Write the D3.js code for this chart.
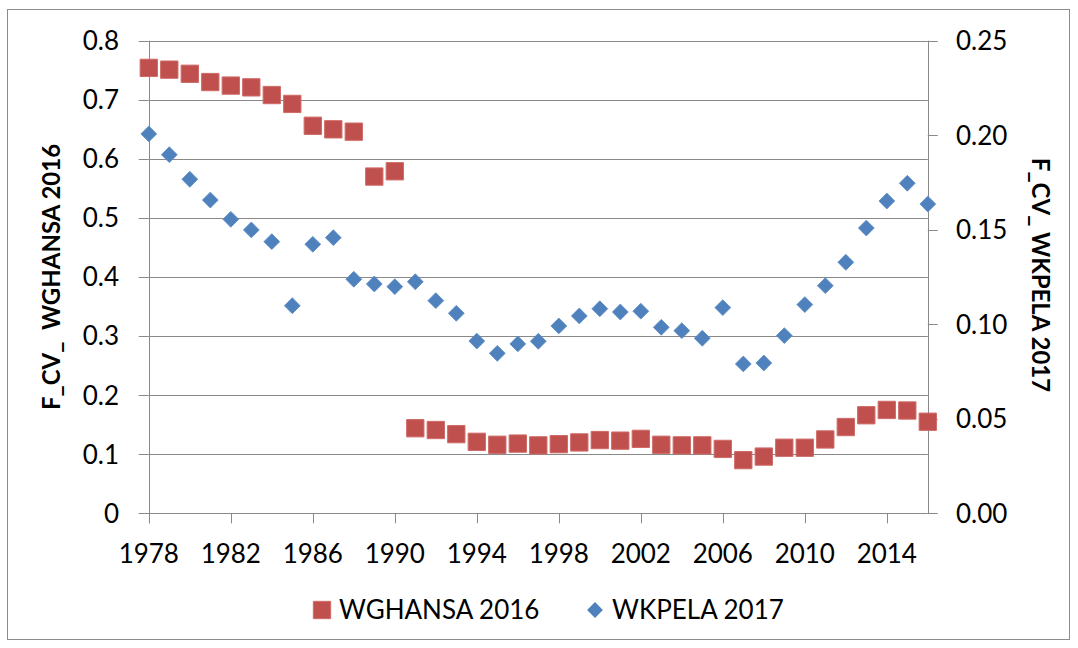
<!DOCTYPE html>
<html>
<head>
<meta charset="utf-8">
<script src="https://cdn.jsdelivr.net/npm/d3@7"></script>
<style>
  body { margin: 0; background: #fff; }
  svg { display: block; font-family: Lato, "Open Sans", sans-serif; }
</style>
</head>
<body>
<svg width="1078" height="648"></svg>
<script>
// data
var years = d3.range(1978, 2017);
var wghansa = [0.754, 0.751, 0.744, 0.730, 0.724, 0.721, 0.708, 0.693, 0.656, 0.650,
  0.646, 0.570, 0.579, 0.144, 0.141, 0.134, 0.121, 0.116, 0.118, 0.115,
  0.117, 0.120, 0.124, 0.123, 0.126, 0.116, 0.115, 0.115, 0.109, 0.090,
  0.096, 0.111, 0.111, 0.125, 0.146, 0.166, 0.175, 0.174, 0.155];
var wkpela = [0.2007, 0.1897, 0.1767, 0.1657, 0.1555, 0.1499, 0.1437, 0.1098, 0.1423, 0.1458,
  0.1238, 0.1213, 0.1199, 0.1225, 0.1125, 0.1058, 0.0911, 0.0846, 0.0896, 0.0910,
  0.0991, 0.1044, 0.1082, 0.1065, 0.1069, 0.0984, 0.0966, 0.0926, 0.1088, 0.0790,
  0.0795, 0.0940, 0.1104, 0.1204, 0.1328, 0.1509, 0.1652, 0.1746, 0.1636];
var xTicks = d3.range(1978, 2016, 4);
var leftTicks = [0, 0.1, 0.2, 0.3, 0.4, 0.5, 0.6, 0.7, 0.8];
var rightTicks = [0, 0.05, 0.10, 0.15, 0.20, 0.25];

var svg = d3.select("svg");
var pLeft = 148.8, pRight = 927.8, pTop = 40.7, pBottom = 513.3;
var gridCol = "#898989";
var red = "#C0504D", blue = "#4F81BD";

var x = d3.scaleLinear().domain([1978, 2016]).range([pLeft, pRight]);
var yL = d3.scaleLinear().domain([0, 0.8]).range([pBottom, pTop]);
var yR = d3.scaleLinear().domain([0, 0.25]).range([pBottom, pTop]);

function px(v) { return Math.round(v) + 0.5; }

// chart border
svg.append("rect")
  .attr("x", 7.5).attr("y", 9.5)
  .attr("width", 1062).attr("height", 630)
  .attr("fill", "#fff").attr("stroke", "#8c8c8c").attr("stroke-width", 1);

// gridlines
svg.append("g").selectAll("line")
  .data(leftTicks.filter(function (d) { return d > 0; }))
  .enter().append("line")
  .attr("x1", pLeft).attr("x2", pRight)
  .attr("y1", function (d) { return px(yL(d)); })
  .attr("y2", function (d) { return px(yL(d)); })
  .attr("stroke", gridCol);

// axes
var ax = svg.append("g");
ax.append("line").attr("x1", pLeft - 10).attr("x2", pRight)
  .attr("y1", px(pBottom)).attr("y2", px(pBottom)).attr("stroke", gridCol);
ax.append("line").attr("x1", px(pLeft)).attr("x2", px(pLeft))
  .attr("y1", pTop).attr("y2", pBottom + 10).attr("stroke", gridCol);
ax.append("line").attr("x1", px(pRight)).attr("x2", px(pRight))
  .attr("y1", pTop).attr("y2", pBottom).attr("stroke", gridCol);

// left ticks + labels
ax.selectAll(".lt").data(leftTicks).enter().append("line")
  .attr("x1", pLeft - 10).attr("x2", pLeft)
  .attr("y1", function (d) { return px(yL(d)); })
  .attr("y2", function (d) { return px(yL(d)); })
  .attr("stroke", gridCol);
ax.selectAll(".ll").data(leftTicks).enter().append("text")
  .attr("x", 119).attr("y", function (d) { return yL(d); })
  .attr("dy", "0.36em").attr("text-anchor", "end")
  .attr("font-size", 26).attr("fill", "#000")
  .text(function (d) { return d === 0 ? "0" : d3.format(".1f")(d); });

// right ticks + labels
ax.selectAll(".rt").data(rightTicks).enter().append("line")
  .attr("x1", pRight).attr("x2", pRight + 10)
  .attr("y1", function (d) { return px(yR(d)); })
  .attr("y2", function (d) { return px(yR(d)); })
  .attr("stroke", gridCol);
ax.selectAll(".rl").data(rightTicks).enter().append("text")
  .attr("x", 956).attr("y", function (d) { return yR(d); })
  .attr("dy", "0.36em").attr("text-anchor", "start")
  .attr("font-size", 26).attr("fill", "#000")
  .text(function (d) { return d3.format(".2f")(d); });

// bottom ticks + labels
ax.selectAll(".bt").data(xTicks).enter().append("line")
  .attr("x1", function (d) { return px(x(d)); })
  .attr("x2", function (d) { return px(x(d)); })
  .attr("y1", pBottom).attr("y2", pBottom + 10)
  .attr("stroke", gridCol);
ax.selectAll(".bl").data(xTicks).enter().append("text")
  .attr("x", function (d) { return x(d); }).attr("y", 563)
  .attr("text-anchor", "middle")
  .attr("font-size", 26).attr("fill", "#000")
  .text(function (d) { return d; });

// axis titles
svg.append("text")
  .attr("transform", "translate(60,277) rotate(-90)")
  .attr("text-anchor", "middle").attr("font-size", 24).attr("font-weight", "bold")
  .attr("xml:space", "preserve")
  .text("F_CV_  WGHANSA 2016");
svg.append("text")
  .attr("transform", "translate(1032,275) rotate(90)")
  .attr("text-anchor", "middle").attr("font-size", 24).attr("font-weight", "bold")
  .text("F_CV_ WKPELA 2017");

// markers
var square = d3.symbol().type(d3.symbolSquare).size(300);
var diamond = d3.symbol().type(d3.symbolSquare).size(125);

svg.append("g").selectAll("path")
  .data(years.map(function (yr, i) { return [yr, wkpela[i]]; }))
  .enter().append("path")
  .attr("d", diamond)
  .attr("transform", function (d) { return "translate(" + x(d[0]) + "," + yR(d[1]) + ") rotate(45)"; })
  .attr("fill", blue).attr("stroke", "#5b8cc4").attr("stroke-width", 0.8);

svg.append("g").selectAll("path")
  .data(years.map(function (yr, i) { return [yr, wghansa[i]]; }))
  .enter().append("path")
  .attr("d", square)
  .attr("transform", function (d) { return "translate(" + x(d[0]) + "," + yL(d[1]) + ")"; })
  .attr("fill", red).attr("stroke", "#cf6a67").attr("stroke-width", 1);

// legend
var lg = svg.append("g");
lg.append("path").attr("d", square)
  .attr("transform", "translate(322,610)")
  .attr("fill", red).attr("stroke", "#cf6a67");
lg.append("text").attr("x", 339).attr("y", 610).attr("dy", "0.36em")
  .attr("font-size", 26).text("WGHANSA 2016");
lg.append("path").attr("d", diamond)
  .attr("transform", "translate(595,610) rotate(45)")
  .attr("fill", blue);
lg.append("text").attr("x", 612).attr("y", 610).attr("dy", "0.36em")
  .attr("font-size", 26).text("WKPELA 2017");
</script>
</body>
</html>
